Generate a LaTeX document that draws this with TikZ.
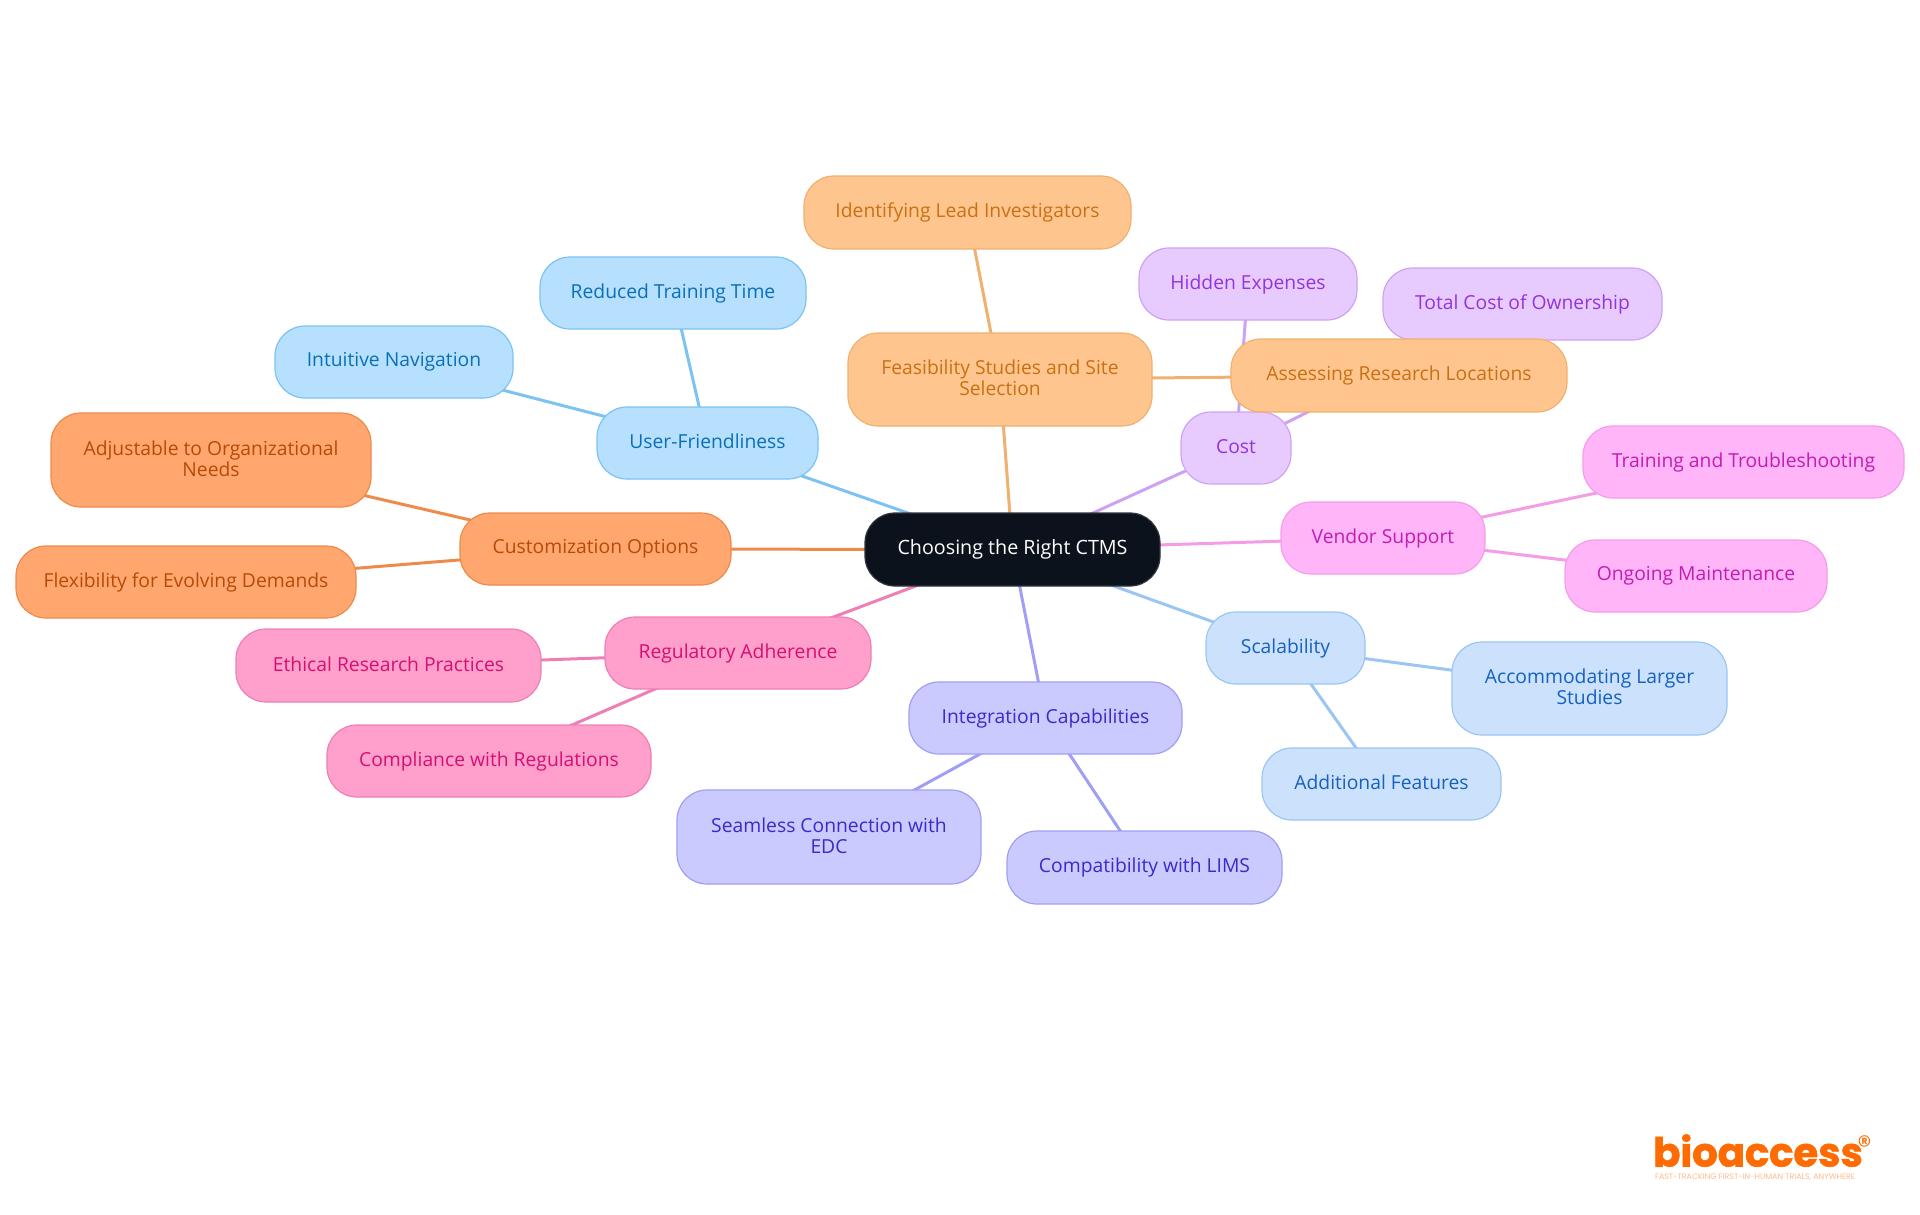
\documentclass[tikz,border=0pt]{standalone}
\usepackage{fontspec}
\setmainfont{Open Sans}
\newfontfamily\logofont[BoldFeatures={FakeBold=1.6}]{Poppins}
\usetikzlibrary{backgrounds}
\definecolor{bluef}{HTML}{B6E0FE}\definecolor{bluel}{HTML}{7CC3F3}\definecolor{bluet}{HTML}{0B6FB8}
\definecolor{peachf}{HTML}{FEC68E}\definecolor{peachl}{HTML}{F0B070}\definecolor{peacht}{HTML}{CA7014}
\definecolor{purpf}{HTML}{E8CBFE}\definecolor{purpl}{HTML}{CDA2F5}\definecolor{purpt}{HTML}{9333DD}
\definecolor{magf}{HTML}{FFB5F8}\definecolor{magl}{HTML}{F59CE9}\definecolor{magt}{HTML}{C21CB5}
\definecolor{skyf}{HTML}{CCE2FC}\definecolor{skyl}{HTML}{9BC5F2}\definecolor{skyt}{HTML}{1560C0}
\definecolor{indf}{HTML}{CACAFF}\definecolor{indl}{HTML}{9F9FF5}\definecolor{indt}{HTML}{3A2AC8}
\definecolor{hotf}{HTML}{FF9FCB}\definecolor{hotl}{HTML}{EE7FB5}\definecolor{hott}{HTML}{D60F72}
\definecolor{orgf}{HTML}{FFA76E}\definecolor{orgl}{HTML}{EE8A4A}\definecolor{orgt}{HTML}{B84A08}
\definecolor{rootf}{HTML}{0C121B}\definecolor{logoc}{HTML}{FF6B00}\definecolor{logol}{HTML}{FFB98A}
\tikzset{
  box/.style={rounded corners=30pt,line width=1.2pt,align=center,inner sep=0pt,outer sep=0pt,font=\fontsize{19.3}{21}\selectfont},
  fam/.style={box,fill=#1f,draw=#1l,text=#1t},
  link/.style={line width=3pt,draw=#1l},
  rootbox/.style={box,fill=rootf,draw=rootf!85!white,text=white,font=\fontsize{19.7}{21}\selectfont},
}
\newcommand{\topstrut}{\rule{0pt}{14pt}}
\newcommand{\botstrut}{\rule[-3.4pt]{0pt}{3.4pt}}
\newcommand{\bx}[7]{\node[fam=#1,minimum width={#4pt-#3pt},minimum height={#6pt-#5pt}] (#2) at ({(#3+#4)/2},{(#5+#6)/2}) {\topstrut#7\botstrut};}
\begin{document}
\begin{tikzpicture}[x=1pt,y=-1pt]
\useasboundingbox (0,0) rectangle (1920,1215);
\bx{purp}{hidden}{1139}{1357}{248}{320}{Hidden Expenses}
\bx{purp}{total}{1383}{1662}{268}{340}{Total Cost of Ownership}
\bx{purp}{cost}{1181}{1291}{412}{484}{Cost}
\bx{blue}{reduced}{540}{806}{257}{329}{Reduced Training Time}
\bx{blue}{intuitive}{275}{513}{326}{398}{Intuitive Navigation}
\bx{blue}{user}{597}{818}{407}{479}{User-Friendliness}
\bx{peach}{lead}{804}{1131}{176}{249}{Identifying Lead Investigators}
\bx{peach}{feas}{848}{1152}{333}{426}{Feasibility Studies and Site\\Selection}
\bx{peach}{assess}{1231}{1567}{339}{412}{Assessing Research Locations}
\bx{mag}{vendor}{1281}{1485}{502}{574}{Vendor Support}
\bx{mag}{training}{1583}{1904}{426}{498}{Training and Troubleshooting}
\bx{mag}{ongoing}{1565}{1827}{540}{612}{Ongoing Maintenance}
\bx{sky}{scal}{1206}{1365}{612}{684}{Scalability}
\bx{sky}{accom}{1452}{1727}{642}{735}{Accommodating Larger\\Studies}
\bx{sky}{addit}{1262}{1501}{748}{820}{Additional Features}
\bx{ind}{integ}{909}{1182}{682}{754}{Integration Capabilities}
\bx{ind}{seam}{677}{981}{790}{884}{Seamless Connection with\\EDC}
\bx{ind}{lims}{1007}{1282}{831}{904}{Compatibility with LIMS}
\bx{hot}{regul}{605}{871}{617}{689}{Regulatory Adherence}
\bx{hot}{ethic}{236}{541}{629}{702}{Ethical Research Practices}
\bx{hot}{compl}{327}{651}{725}{797}{Compliance with Regulations}
\bx{org}{custom}{460}{731}{513}{585}{Customization Options}
\bx{org}{adjust}{51}{371}{413}{507}{Adjustable to Organizational\\Needs}
\bx{org}{flex}{16}{356}{546}{618}{Flexibility for Evolving Demands}
\node[rootbox,minimum width=295pt,minimum height=73pt] (root) at (1012.5,549.5) {\topstrut Choosing the Right CTMS\botstrut};
\begin{scope}[on background layer]
\draw[link=blue] (root.center)--(user.center) (user.center)--(reduced.center) (user.center)--(intuitive.center);
\draw[link=peach] (root.center)--(feas.center) (feas.center)--(lead.center) (feas.center)--(assess.center);
\draw[link=purp] (root.center)--(cost.center) (cost.center)--(hidden.center) (cost.center)--(total.center);
\draw[link=mag] (root.center)--(vendor.center) (vendor.center)--(training.center) (vendor.center)--(ongoing.center);
\draw[link=sky] (root.center)--(scal.center) (scal.center)--(accom.center) (scal.center)--(addit.center);
\draw[link=ind] (root.center)--(integ.center) (integ.center)--(seam.center) (integ.center)--(lims.center);
\draw[link=hot] (root.center)--(regul.center) (regul.center)--(ethic.center) (regul.center)--(compl.center);
\draw[link=org] (root.center)--(custom.center) (custom.center)--(adjust.center) (custom.center)--(flex.center);
\end{scope}
\node[anchor=south west,inner sep=0pt,text=logoc] (logo) at (1653,1167) {\resizebox{204pt}{!}{\logofont\bfseries bioaccess\kern-1.4pt\rlap{\raisebox{2.7pt}{\scalebox{.7}{\mdseries\symbol{"00AE}}}}}};
\node[anchor=center,inner sep=0pt,text=logol] (tag) at (1755,1177) {\resizebox{200pt}{!}{\logofont FAST-TRACKING FIRST-IN-HUMAN TRIALS, ANYWHERE}};
\end{tikzpicture}
\end{document}
